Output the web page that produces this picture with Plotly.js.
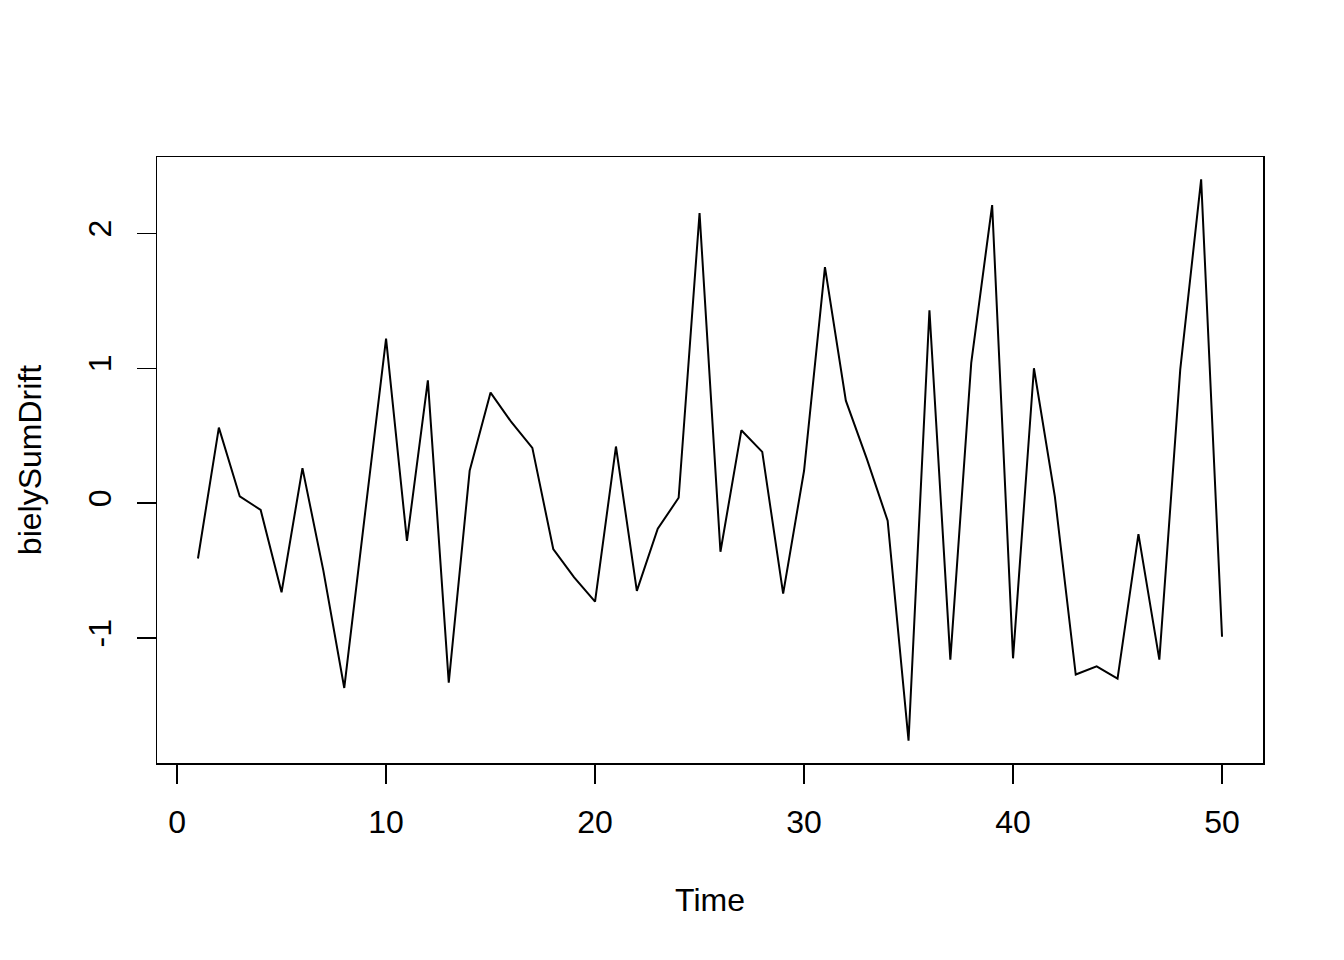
<!DOCTYPE html>
<html>
<head>
<meta charset="utf-8">
<script src="https://cdn.plot.ly/plotly-3.0.1.min.js"></script>
<style>html,body{margin:0;padding:0;background:#fff;}#chart{width:1344px;height:960px;}</style>
</head>
<body>
<div id="chart"></div>
<script>
const time = [1,2,3,4,5,6,7,8,9,10,11,12,13,14,15,16,17,18,19,20,21,22,23,24,25,26,27,28,29,30,31,32,33,34,35,36,37,38,39,40,41,42,43,44,45,46,47,48,49,50];
const bielySumDrift = [-0.41,0.56,0.05,-0.05,-0.66,0.26,-0.50,-1.37,-0.07,1.22,-0.28,0.91,-1.33,0.24,0.82,0.60,0.41,-0.34,-0.55,-0.73,0.42,-0.65,-0.19,0.04,2.15,-0.36,0.54,0.38,-0.67,0.24,1.75,0.76,0.33,-0.13,-1.76,1.43,-1.16,1.04,2.21,-1.15,1.00,0.05,-1.27,-1.21,-1.30,-0.23,-1.16,0.99,2.40,-0.99];
const xTicks = [0,10,20,30,40,50];
const yTicks = [-1,0,1,2];

const font = {family: "Liberation Sans, Arial, Helvetica, sans-serif", size: 32, color: "#000"};

Plotly.newPlot("chart", [{
  x: time, y: bielySumDrift, type: "scatter", mode: "lines",
  line: {color: "#000", width: 2}, hoverinfo: "none"
}], {
  width: 1344, height: 960,
  margin: {l: 157, r: 81, t: 157, b: 197},
  paper_bgcolor: "#fff", plot_bgcolor: "#fff",
  showlegend: false,
  font: font,
  xaxis: {
    range: [-0.96, 51.96], tickvals: xTicks, ticktext: xTicks.map(String),
    ticks: "outside", ticklen: 19, tickwidth: 1.5, tickcolor: "#000",
    showgrid: false, zeroline: false, showline: true, mirror: true,
    linecolor: "#000", linewidth: 1.5, ticklabelstandoff: 11,
    tickfont: font,
    title: {text: "Time", font: font, standoff: 49}
  },
  yaxis: {
    range: [-1.926, 2.566], tickvals: yTicks, ticktext: yTicks.map(String),
    ticks: "outside", ticklen: 19, tickwidth: 1.5, tickcolor: "#000",
    showgrid: false, zeroline: false, showline: true, mirror: true,
    linecolor: "#000", linewidth: 1.5, tickangle: -90, ticklabelstandoff: 13,
    tickfont: font,
    title: {text: "bielySumDrift", font: font, standoff: 30}
  }
}, {staticPlot: true});
</script>
</body>
</html>
